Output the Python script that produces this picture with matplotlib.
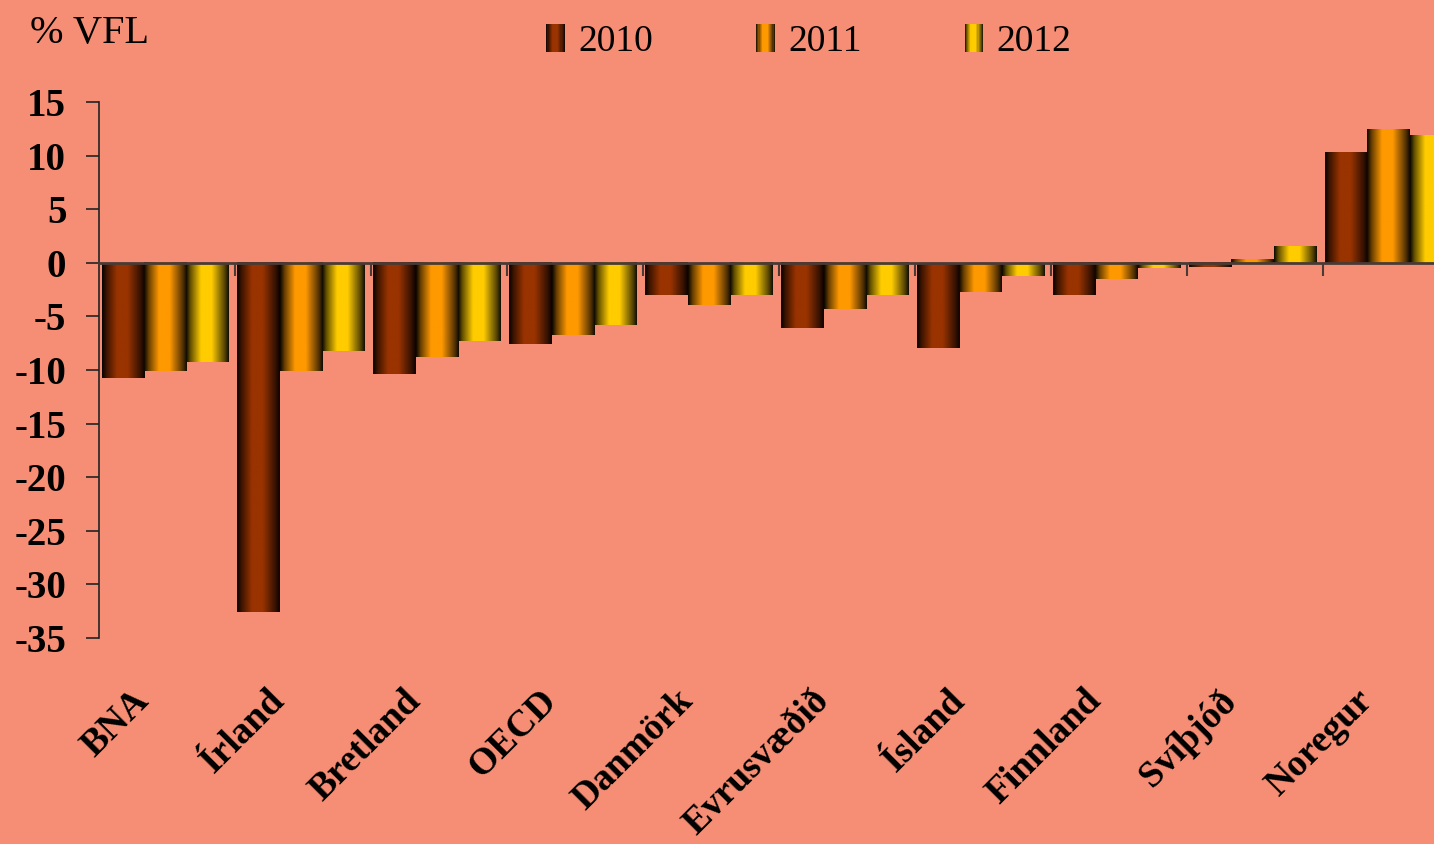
import matplotlib
matplotlib.use("Agg")
import matplotlib.pyplot as plt
import numpy as np
from matplotlib.patches import Rectangle, Patch
from matplotlib.legend_handler import HandlerBase
import matplotlib.colors as mcolors

lond = ["BNA", "Írland", "Bretland", "OECD", "Danmörk", "Evrusvæðið",
        "Ísland", "Finnland", "Svíþjóð", "Noregur"]
ar = ["2010", "2011", "2012"]
v2010 = [-10.7, -32.6, -10.4, -7.6, -3.0, -6.1, -7.9, -3.0, -0.4, 10.3]
v2011 = [-10.1, -10.1, -8.8, -6.7, -3.9, -4.3, -2.7, -1.5, 0.3, 12.5]
v2012 = [-9.2, -8.2, -7.3, -5.8, -3.0, -3.0, -1.2, -0.5, 1.5, 11.9]
litir = ["#993300", "#FF9900", "#FFCC00"]
bakgrunnur = "#F58E74"

plt.rcParams["font.family"] = ["Liberation Serif", "DejaVu Serif"]

# skygging a stolpum: dokkt til jadranna, bjart i midju
def skuggi(t):
    return np.interp(t, [0, 0.1, 0.35, 0.6, 0.9, 1], [0.05, 0.4, 1, 1, 0.35, 0.08])

def litur(base, t):
    rgb = np.array(mcolors.to_rgb(base))
    return tuple(rgb * skuggi(t))

class Stigull(HandlerBase):
    def create_artists(self, legend, orig_handle, xdescent, ydescent,
                       width, height, fontsize, trans):
        base = orig_handle.get_facecolor()
        n = 16
        out = []
        for k in range(n):
            t = (k + 0.5) / n
            out.append(Rectangle((-xdescent + k * width / n, -ydescent),
                                 width / n * 1.05, height,
                                 facecolor=litur(base, t), edgecolor="none",
                                 transform=trans))
        return out

fig = plt.figure(figsize=(14.34, 8.44), dpi=100)
fig.patch.set_facecolor(bakgrunnur)
ax = fig.add_axes([99 / 1434, 0.244, 1 - 99 / 1434, 0.635])
ax.set_facecolor(bakgrunnur)

x = np.arange(len(lond)) - 0.015
w = 0.311
tt = np.linspace(0, 1, 64)
for j, (vals, col) in enumerate(zip([v2010, v2011, v2012], litir)):
    bars = ax.bar(x + (j - 1) * w, vals, width=w, color="none", edgecolor="none")
    img = np.array([[litur(col, t) for t in tt]])
    for b in bars:
        x0, y0 = b.get_x(), b.get_y()
        bh = b.get_height()
        ax.imshow(img, extent=(x0, x0 + b.get_width(), min(y0, y0 + bh), max(y0, y0 + bh)),
                  aspect="auto", interpolation="bilinear", zorder=2)

ax.set_xlim(-0.5, 9.32)
ax.set_ylim(-35, 15)
ax.set_yticks(np.arange(-35, 16, 5))
ax.set_yticklabels([str(v) for v in range(-35, 16, 5)], fontsize=28, fontweight="bold")
ax.tick_params(axis="y", direction="out", length=9.5, width=1.2, pad=14, color="#222222")

ax.spines["top"].set_visible(False)
ax.spines["right"].set_visible(False)
ax.spines["left"].set_color("#222222")
ax.spines["left"].set_linewidth(1.2)
ax.spines["bottom"].set_position(("data", 0))
ax.spines["bottom"].set_color("#4a3a35")
ax.spines["bottom"].set_linewidth(2)
ax.spines["bottom"].set_zorder(3)
ax.set_xticks(np.arange(0.5, 9.0, 1.0))
ax.set_xticklabels([])
ax.tick_params(axis="x", direction="out", length=9, width=1.5, color="#4a3a35")

for i, nafn in enumerate(lond):
    ax.text(i - 0.08, -39.2, nafn, rotation=45, ha="right", va="top",
            fontsize=27, fontweight="bold", clip_on=False)

fig.text(0.021, 0.982, "% VFL", fontsize=29, va="top", ha="left")

handles = [Patch(facecolor=c) for c in litir]
fig.legend(handles, ar, loc="center", bbox_to_anchor=(0.564, 0.951), ncol=3,
           frameon=False, fontsize=27, handlelength=0.5, handleheight=0.8,
           handletextpad=0.35, columnspacing=2.75,
           handler_map={Patch: Stigull()})

fig.savefig("out.png", dpi=100, facecolor=bakgrunnur)
